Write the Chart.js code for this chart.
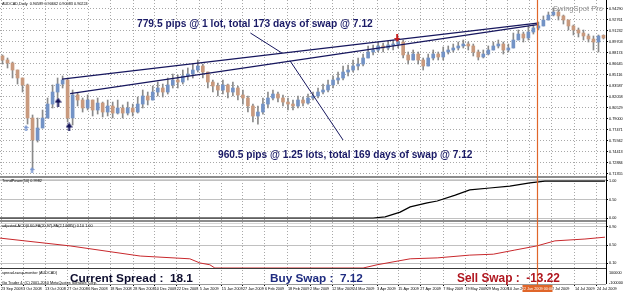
<!DOCTYPE html>
<html>
<head>
<meta charset="utf-8">
<script src="https://cdn.jsdelivr.net/npm/chart.js@4.4.1/dist/chart.umd.min.js"></script>
<style>
  html, body { margin: 0; padding: 0; background: #fff; }
  #wrap { position: relative; width: 625px; height: 292px; }
</style>
</head>
<body>
<div id="wrap"><canvas id="chart" width="625" height="292"></canvas></div>
<script>
// AUDCAD daily candles, Sep 2008 - Jul 2009 (one candle per two sessions)
const opens = [
  .8772,.8716,.8674,.8577,.8466,.8369,.7910,.7604,.7771,.7910,
  .8104,.8271,.8382,.8438,.7910,.8230,.8160,.8049,.8160,.8021,
  .8118,.7993,.8077,.7979,.8049,.7979,.8049,.7993,.8104,.8216,
  .8160,.8271,.8327,.8271,.8369,.8438,.8410,.8494,.8521,.8577,
  .8633,.8549,.8410,.8355,.8299,.8369,.8271,.8327,.8230,.8188,
  .8077,.7938,.7993,.8104,.8188,.8243,.8188,.8132,.8104,.8077,
  .8160,.8118,.8188,.8216,.8271,.8299,.8369,.8438,.8466,.8549,
  .8577,.8633,.8660,.8744,.8827,.8855,.8911,.8883,.8925,.8938,
  .8966,.8786,.8716,.8799,.8716,.8633,.8744,.8799,.8758,.8827,
  .8855,.8883,.8911,.8938,.8911,.8827,.8758,.8799,.8855,.8911,
  .8938,.8855,.8883,.8994,.9077,.9022,.9105,.9161,.9189,.9272,
  .9341,.9383,.9328,.9272,.9189,.9133,.9091,.9050,.9008,.8966,
  .9059
];
const closes = [
  .8716,.8674,.8577,.8466,.8369,.7910,.7604,.7771,.7910,.8104,
  .8271,.8382,.8438,.7910,.8230,.8160,.8049,.8160,.8021,.8118,
  .7993,.8077,.7979,.8049,.7979,.8049,.7993,.8104,.8216,.8160,
  .8271,.8327,.8271,.8369,.8438,.8410,.8494,.8521,.8577,.8633,
  .8549,.8410,.8355,.8299,.8369,.8271,.8327,.8230,.8188,.8077,
  .7938,.7993,.8104,.8188,.8243,.8188,.8132,.8104,.8077,.8160,
  .8118,.8188,.8216,.8271,.8299,.8369,.8438,.8466,.8549,.8577,
  .8633,.8660,.8744,.8827,.8855,.8911,.8883,.8925,.8938,.8966,
  .8786,.8716,.8799,.8716,.8633,.8744,.8799,.8758,.8827,.8855,
  .8883,.8911,.8938,.8911,.8827,.8758,.8799,.8855,.8911,.8938,
  .8855,.8883,.8994,.9077,.9022,.9105,.9161,.9189,.9272,.9341,
  .9383,.9328,.9272,.9189,.9133,.9091,.9050,.9008,.8966,.9050,
  .9022
];
const highs = [
  .8786,.8744,.8688,.8577,.8466,.8382,.7952,.7910,.8021,.8188,
  .8369,.8466,.8494,.8466,.8299,.8257,.8188,.8230,.8160,.8188,
  .8132,.8160,.8132,.8160,.8091,.8132,.8104,.8202,.8299,.8271,
  .8355,.8410,.8382,.8466,.8521,.8508,.8577,.8605,.8660,.8716,
  .8660,.8549,.8438,.8396,.8438,.8382,.8410,.8355,.8299,.8216,
  .8104,.8077,.8188,.8271,.8299,.8271,.8230,.8188,.8160,.8216,
  .8202,.8243,.8271,.8327,.8382,.8438,.8494,.8549,.8633,.8647,
  .8716,.8744,.8799,.8911,.8925,.8966,.8952,.8980,.8994,.9022,
  .8994,.8827,.8855,.8827,.8744,.8799,.8855,.8827,.8897,.8911,
  .8938,.8966,.8994,.8966,.8938,.8855,.8855,.8911,.8966,.8994,
  .8966,.8938,.9091,.9133,.9105,.9189,.9203,.9244,.9328,.9383,
  .9439,.9411,.9341,.9272,.9203,.9161,.9133,.9077,.9050,.9064,
  .9066
];
const lows = [
  .8660,.8605,.8466,.8382,.8271,.7826,.7187,.7576,.7771,.7910,
  .8049,.8188,.8327,.7854,.7813,.8077,.7993,.8021,.7938,.7965,
  .7924,.7938,.7910,.7965,.7910,.7952,.7938,.7979,.8049,.8091,
  .8160,.8216,.8202,.8243,.8327,.8327,.8382,.8438,.8466,.8549,
  .8466,.8327,.8271,.8216,.8243,.8188,.8216,.8160,.8104,.7993,
  .7854,.7826,.7965,.8049,.8160,.8132,.8077,.8021,.8021,.8049,
  .8077,.8104,.8160,.8188,.8243,.8271,.8327,.8382,.8438,.8494,
  .8549,.8577,.8633,.8744,.8786,.8827,.8827,.8855,.8855,.8883,
  .8744,.8660,.8716,.8660,.8577,.8633,.8716,.8716,.8716,.8799,
  .8827,.8855,.8883,.8855,.8772,.8716,.8744,.8786,.8855,.8883,
  .8799,.8827,.8883,.8994,.8966,.8994,.9077,.9133,.9189,.9272,
  .9328,.9272,.9216,.9133,.9064,.9036,.8994,.8966,.8855,.8827,
  .9008
];

// date axis (candle index where each label sits)
const dateLabels = ['23 Sep 2008','3 Oct 2008','13 Oct 2008','27 Oct 2008','6 Nov 2008','18 Nov 2008',
  '28 Nov 2008','10 Dec 2008','22 Dec 2008','5 Jan 2009','15 Jan 2009','27 Jan 2009','6 Feb 2009',
  '18 Feb 2009','2 Mar 2009','12 Mar 2009','24 Mar 2009','3 Apr 2009','15 Apr 2009','27 Apr 2009',
  '7 May 2009','19 May 2009','29 May 2009','10 Jun 2009','22 Jun 2009','2 Jul 2009','14 Jul 2009','24 Jul 2009'];
const dateIdx = [-0.3,4.1,8.5,12.9,17.1,21.5,26.1,30.4,34.8,39.4,43.8,48.0,52.4,57.0,61.4,65.8,
  70.0,74.8,79.0,83.4,88.0,92.4,96.7,100.9,105.3,109.7,114.3,118.7];

// price axis
const priceTicks = [0.94290,0.92761,0.91232,0.89703,0.88174,0.86645,0.85116,0.83587,
  0.82058,0.80529,0.79000,0.77471,0.75942,0.74413,0.72884,0.71355];

// trend lines and pointers [index, price]
const upperLine = [[11.9, 0.8451], [106.8, 0.9230]];
const lowerLine = [[13.5, 0.8249], [106.8, 0.9209]];
const pointer1 = [[49.5, 0.9091], [55.8, 0.8813]];
const pointer2 = [[57.4, 0.8706], [68.0, 0.7604]];
const buyArrows = [[11.1, 0.8132], [13.3, 0.7785]];
const sellArrows = [[78.8, 0.9022]];
const smallArrows = [[4.7, 0.7771], [5.9, 0.7187]];
const cursorIdx = 106.8;

// TrendPower(50)
const tpIdx = [-0.5, 74.0, 76.4, 79.4, 81.4, 84.8, 86.8, 90.4, 93.3, 97.3, 101.3, 105.3, 108.3, 120.3];
const tpVals = [0, 0, 0.03, 0.16, 0.30, 0.41, 0.46, 0.62, 0.76, 0.81, 0.86, 0.95, 0.998, 0.998];

// adjusted ACD
const acIdx = [-0.5, 13.5, 27.5, 37.4, 39.4, 41.4, 42.4, 72.0, 74.8, 81.4, 86.8, 93.3, 98.0, 102.3, 106.7, 110.3, 116.3, 120.3];
const acVals = [0.65, 0.48, 0.26, 0.20, 0.11, 0.07, 0, 0, 0.07, 0.20, 0.22, 0.28, 0.30, 0.39, 0.48, 0.59, 0.63, 0.67];

const UP = '#7393c6';
const DOWN = '#c99a7e';
const NAVY = '#17175e';
const TINY = 3.8;

Chart.defaults.font.family = '"Liberation Sans", Arial, sans-serif';

function pts(arr) { return arr.map(p => ({ x: p[0], y: p[1] })); }

function arrowImg(color, w, h, down) {
	const c = document.createElement('canvas');
	c.width = w; c.height = h;
	const g = c.getContext('2d');
	g.fillStyle = color;
	if (down) { g.translate(0, h); g.scale(1, -1); }
	const head = Math.round(h * 0.55);
	const stem = Math.max(1, Math.round(w / 3));
	g.beginPath(); g.moveTo(w / 2, 0); g.lineTo(w, head); g.lineTo(0, head); g.closePath(); g.fill();
	g.fillRect((w - stem) / 2, head - 1, stem, h - head + 1);
	return c;
}

function yPane(weight, min, max, ticks, labels, grid, dash) {
	return {
		type: 'linear', position: 'right', stack: 'panes', stackWeight: weight, min, max,
		afterBuildTicks: ax => { ax.ticks = ticks.map(v => ({ value: v })); },
		afterFit: s => { s.width = 19; s.paddingTop = 0; s.paddingBottom = 0; },
		ticks: { callback: (v, i) => labels[i], autoSkip: false, font: { size: TINY }, color: '#000', padding: 1 },
		grid: { color: grid, lineWidth: 1, tickColor: '#000', tickLength: 2, display: grid !== null },
		border: { display: false, dash: dash }
	};
}

function fitText(ctx, text, x, y, width, weight, color) {
	ctx.font = weight + ' 20px "Liberation Sans", Arial, sans-serif';
	const size = 20 * width / ctx.measureText(text).width;
	ctx.font = weight + ' ' + size.toFixed(2) + 'px "Liberation Sans", Arial, sans-serif';
	ctx.fillStyle = color;
	ctx.textAlign = 'left';
	ctx.textBaseline = 'middle';
	ctx.fillText(text, x, y);
}

function smallText(ctx, text, x, y) {
	ctx.font = TINY + 'px "Liberation Sans", Arial, sans-serif';
	ctx.fillStyle = '#000';
	ctx.textAlign = 'left';
	ctx.textBaseline = 'middle';
	ctx.fillText(text, x, y);
}

const overlay = {
	id: 'overlay',
	afterDraw(chart) {
		const { ctx, chartArea: a, scales } = chart;
		ctx.save();
		// pane separators
		[scales.yTP, scales.yAC].forEach(s => {
			ctx.fillStyle = '#8c8c8c'; ctx.fillRect(0, s.top, a.right, 2);
			ctx.fillStyle = '#d6d6d6'; ctx.fillRect(0, s.top + 3, a.right, 1);
		});
		ctx.fillStyle = '#3a3a3a'; ctx.fillRect(0, scales.ySp.top, a.right, 1);
		// frame
		ctx.fillStyle = '#000';
		ctx.fillRect(a.right, 0, 1, a.bottom);
		ctx.fillStyle = '#9a9a9a';
		ctx.fillRect(0, a.bottom, a.right, 1);

		// cursor line
		const cx = Math.round(scales.x.getPixelForValue(cursorIdx)) + 0.5;
		ctx.strokeStyle = '#e0662a'; ctx.lineWidth = 1.2;
		ctx.beginPath(); ctx.moveTo(cx, 0); ctx.lineTo(cx, a.bottom + 1); ctx.stroke();
		ctx.fillStyle = '#e0662a'; ctx.fillRect(cx - 15, a.bottom + 1, 30, 8);
		ctx.font = TINY + 'px "Liberation Sans", Arial, sans-serif';
		ctx.fillStyle = '#fff'; ctx.textAlign = 'center'; ctx.textBaseline = 'middle';
		ctx.fillText('22 Jun 2009 00:00', cx, a.bottom + 5);

		// labels
		smallText(ctx, 'AUDCAD,Daily  0.90589 0.90662 0.90083 0.90224', 2, 4);
		smallText(ctx, 'TrendPower(50) 0.9982', 2, scales.yTP.top + 5);
		smallText(ctx, 'adjusted-ACD(0.60-FA(20,97)-FA(2,14485)) 0.10 1.00', 2, scales.yAC.top + 6);
		smallText(ctx, 'spread-swap-monitor (AUDCAD)', 2, scales.ySp.top + 5);
		smallText(ctx, 'Go Trader 4, (C) 2001-2010 MetaQuotes Software Corp.', 2, a.bottom - 1);

		fitText(ctx, 'SwingSpot Pro', 553, 8.5, 50, 'normal', '#8e8e8e');
		fitText(ctx, '779.5 pips @ 1 lot, total 173 days of swap @ 7.12', 137, 24, 236, 'bold', '#1a1a66');
		fitText(ctx, '960.5 pips @ 1.25 lots, total 169 days of swap @ 7.12', 218, 155, 255, 'bold', '#1a1a66');
		fitText(ctx, 'Current Spread :  18.1', 70, 278.5, 123, 'bold', '#0d0d2e');
		fitText(ctx, 'Buy Swap :  7.12', 270, 278.5, 93, 'bold', '#1f2c80');
		fitText(ctx, 'Sell Swap :  -13.22', 457, 278.5, 103, 'bold', '#b0161f');
		ctx.restore();
	}
};

new Chart(document.getElementById('chart'), {
	type: 'bar',
	data: {
		datasets: [
			{
				type: 'bar', label: 'range',
				data: highs.map((h, i) => ({ x: i, y: [lows[i], h] })),
				backgroundColor: '#8a8a8a', barThickness: 1, grouped: false,
				yAxisID: 'yMain', order: 6
			},
			{
				type: 'bar', label: 'body',
				data: closes.map((c, i) => ({ x: i, y: [opens[i], c] })),
				backgroundColor: ctx => closes[ctx.dataIndex] >= opens[ctx.dataIndex] ? UP : DOWN,
				barThickness: 3, grouped: false,
				yAxisID: 'yMain', order: 5
			},
			{ type: 'line', data: pts(upperLine), borderColor: NAVY, borderWidth: 1.3, pointRadius: 0, yAxisID: 'yMain', order: 2 },
			{ type: 'line', data: pts(lowerLine), borderColor: NAVY, borderWidth: 1.3, pointRadius: 0, yAxisID: 'yMain', order: 2 },
			{ type: 'line', data: pts(pointer1), borderColor: NAVY, borderWidth: 1, pointRadius: 0, yAxisID: 'yMain', order: 2 },
			{ type: 'line', data: pts(pointer2), borderColor: NAVY, borderWidth: 1, pointRadius: 0, yAxisID: 'yMain', order: 2 },
			{ type: 'line', data: pts(buyArrows), showLine: false, pointStyle: arrowImg('#14145a', 7, 9, false), pointRadius: 3, yAxisID: 'yMain', order: 1 },
			{ type: 'line', data: pts(sellArrows), showLine: false, pointStyle: arrowImg('#c41e1e', 6, 8, true), pointRadius: 3, yAxisID: 'yMain', order: 1 },
			{ type: 'line', data: pts(smallArrows), showLine: false, pointStyle: arrowImg('#7a98d2', 5, 6, false), pointRadius: 3, yAxisID: 'yMain', order: 1 },
			{
				type: 'line', label: 'TrendPower',
				data: tpIdx.map((x, i) => ({ x, y: tpVals[i] })),
				borderColor: '#000', borderWidth: 1.2, pointRadius: 0, yAxisID: 'yTP', order: 3
			},
			{
				type: 'line', label: 'ACD',
				data: acIdx.map((x, i) => ({ x, y: acVals[i] })),
				borderColor: '#c8282c', borderWidth: 1, pointRadius: 0, yAxisID: 'yAC', order: 3
			}
		]
	},
	options: {
		responsive: false,
		animation: false,
		devicePixelRatio: 1,
		layout: { padding: 0, autoPadding: false },
		plugins: { legend: { display: false }, tooltip: { enabled: false } },
		scales: {
			x: {
				type: 'linear', position: 'bottom', min: -0.5, max: 120.5, offset: false,
				afterBuildTicks: ax => { ax.ticks = dateIdx.map(v => ({ value: v })); },
				afterFit: s => { s.height = 8; s.paddingLeft = 0; s.paddingRight = 0; },
				ticks: { callback: (v, i) => dateLabels[i], align: 'start', autoSkip: false, maxRotation: 0,
					font: { size: TINY }, color: '#000', padding: 1 },
				grid: { offset: false, color: '#a8a8a8', lineWidth: 1, tickColor: '#000', tickLength: 2 },
				border: { display: false, dash: [1, 2] }
			},
			yMain: yPane(176, 0.7104, 0.9550, priceTicks, priceTicks.map(v => v.toFixed(5)), '#a8a8a8', [1, 2]),
			yTP: yPane(44, -0.054, 1.135, [1.0, 0.5, 0.0], ['1.00', '0.50', '0.00'], '#c0c0c0', []),
			yAC: yPane(48, 0, 1.0435, [0.9, 0.5, 0.1], ['0.90', '0.50', '0.10'], '#c0c0c0', []),
			ySp: yPane(16, 0, 1, [0.69, 0.06], ['100000', '-100000'], null, [])
		}
	},
	plugins: [overlay]
});
</script>
</body>
</html>
